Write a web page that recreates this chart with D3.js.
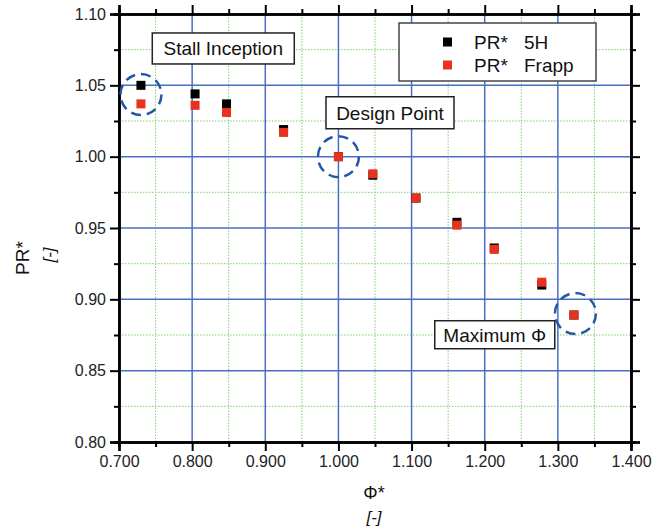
<!DOCTYPE html>
<html>
<head>
<meta charset="utf-8">
<script src="https://cdn.jsdelivr.net/npm/d3@7"></script>
<style>
  body { margin: 0; background: #fff; }
  svg { font-family: "Liberation Sans", Arial, sans-serif; }
</style>
</head>
<body>
<svg id="chart" width="669" height="531"></svg>
<script>
// flow coefficient (normalised) and pressure ratio for both probes
const phi = [0.730, 0.804, 0.847, 0.925, 1.000, 1.047, 1.106, 1.162, 1.213, 1.278, 1.322];
const pr5H = [1.050, 1.044, 1.037, 1.019, 1.000, 0.987, 0.971, 0.954, 0.936, 0.910, 0.889];
const prFrapp = [1.037, 1.036, 1.031, 1.017, 1.000, 0.988, 0.971, 0.952, 0.935, 0.912, 0.889];

const xTicks = [0.7, 0.8, 0.9, 1.0, 1.1, 1.2, 1.3, 1.4];
const yTicks = [0.80, 0.85, 0.90, 0.95, 1.00, 1.05, 1.10];

// highlighted points
const callouts = [
  { x: 0.730, y: 1.0435, label: 'Stall Inception' },
  { x: 1.000, y: 1.000, label: 'Design Point' },
  { x: 1.324, y: 0.890, label: 'Maximum \u03A6' }
];

const width = 669;
const height = 531;
const margin = { top: 14, right: 38, bottom: 89, left: 119 };

const svg = d3.select('#chart');

const x = d3.scaleLinear()
  .domain([0.7, 1.4])
  .range([margin.left, width - margin.right]);

const y = d3.scaleLinear()
  .domain([0.8, 1.1])
  .range([height - margin.bottom, margin.top]);

const minorX = d3.range(0.75, 1.4, 0.1);
const minorY = d3.range(0.825, 1.1, 0.05);

// minor grid, green dotted
svg.append('g')
  .selectAll('line')
  .data(minorX)
  .enter()
  .append('line')
  .attr('x1', d => x(d)).attr('x2', d => x(d))
  .attr('y1', y(0.8)).attr('y2', y(1.1))
  .attr('stroke', '#7fcf6f')
  .attr('stroke-width', 1)
  .attr('stroke-dasharray', '1.5,1.5');

svg.append('g')
  .selectAll('line')
  .data(minorY)
  .enter()
  .append('line')
  .attr('x1', x(0.7)).attr('x2', x(1.4))
  .attr('y1', d => y(d)).attr('y2', d => y(d))
  .attr('stroke', '#7fcf6f')
  .attr('stroke-width', 1)
  .attr('stroke-dasharray', '1.5,1.5');

// major grid, blue
svg.append('g')
  .selectAll('line')
  .data(xTicks)
  .enter()
  .append('line')
  .attr('x1', d => x(d)).attr('x2', d => x(d))
  .attr('y1', y(0.8)).attr('y2', y(1.1))
  .attr('stroke', '#4a6fc2')
  .attr('stroke-width', 1.5);

svg.append('g')
  .selectAll('line')
  .data(yTicks)
  .enter()
  .append('line')
  .attr('x1', x(0.7)).attr('x2', x(1.4))
  .attr('y1', d => y(d)).attr('y2', d => y(d))
  .attr('stroke', '#4a6fc2')
  .attr('stroke-width', 1.5);

// axes: ticks outward on all four sides
function styleAxis(g) {
  g.select('.domain').attr('stroke', '#000').attr('stroke-width', 2.5);
  g.selectAll('line').attr('stroke', '#000').attr('stroke-width', 2);
  g.selectAll('text')
    .attr('fill', '#222')
    .style('font-size', '16px');
}

const axisBottomG = svg.append('g')
  .attr('transform', `translate(0, ${y(0.8)})`);
axisBottomG.append('g')
  .call(d3.axisBottom(x).tickValues(minorX).tickSize(5).tickFormat(''))
  .call(styleAxis);
axisBottomG.append('g')
  .call(d3.axisBottom(x).tickValues(xTicks).tickSize(9).tickPadding(5).tickFormat(d3.format('.3f')))
  .call(styleAxis);

const axisTopG = svg.append('g')
  .attr('transform', `translate(0, ${y(1.1)})`);
axisTopG.append('g')
  .call(d3.axisTop(x).tickValues(minorX).tickSize(5).tickFormat(''))
  .call(styleAxis);
axisTopG.append('g')
  .call(d3.axisTop(x).tickValues(xTicks).tickSize(9).tickFormat(''))
  .call(styleAxis);

const axisLeftG = svg.append('g')
  .attr('transform', `translate(${x(0.7)}, 0)`);
axisLeftG.append('g')
  .call(d3.axisLeft(y).tickValues(minorY).tickSize(5).tickFormat(''))
  .call(styleAxis);
axisLeftG.append('g')
  .call(d3.axisLeft(y).tickValues(yTicks).tickSize(9).tickPadding(4).tickFormat(d3.format('.2f')))
  .call(styleAxis);

const axisRightG = svg.append('g')
  .attr('transform', `translate(${x(1.4)}, 0)`);
axisRightG.append('g')
  .call(d3.axisRight(y).tickValues(minorY).tickSize(5).tickFormat(''))
  .call(styleAxis);
axisRightG.append('g')
  .call(d3.axisRight(y).tickValues(yTicks).tickSize(9).tickFormat(''))
  .call(styleAxis);

// markers
const sq = 9;
svg.append('g')
  .selectAll('rect')
  .data(phi)
  .enter()
  .append('rect')
  .attr('x', d => x(d) - sq / 2)
  .attr('y', (d, i) => y(pr5H[i]) - sq / 2)
  .attr('width', sq).attr('height', sq)
  .attr('fill', '#000');

svg.append('g')
  .selectAll('rect')
  .data(phi)
  .enter()
  .append('rect')
  .attr('x', d => x(d) - sq / 2)
  .attr('y', (d, i) => y(prFrapp[i]) - sq / 2)
  .attr('width', sq).attr('height', sq)
  .attr('fill', '#e8321f');

// dashed circles around the highlighted points
svg.append('g')
  .selectAll('circle')
  .data(callouts)
  .enter()
  .append('circle')
  .attr('cx', d => x(d.x))
  .attr('cy', d => y(d.y))
  .attr('r', 20.5)
  .attr('fill', 'none')
  .attr('stroke', '#2456a8')
  .attr('stroke-width', 2.5)
  .attr('stroke-dasharray', '10,6');

// label boxes
const boxes = [
  { x0: 0.7455, y0: 1.0867, w: 142, h: 31 },
  { x0: 0.983, y0: 1.042, w: 128, h: 32 },
  { x0: 1.1317, y0: 0.885, w: 120, h: 28 }
];
boxes.forEach((b, i) => {
  const bx = x(b.x0), by = y(b.y0);
  svg.append('rect')
    .attr('x', bx).attr('y', by)
    .attr('width', b.w).attr('height', b.h)
    .attr('fill', '#fff')
    .attr('stroke', '#222')
    .attr('stroke-width', 1.5);
  svg.append('text')
    .attr('x', bx + b.w / 2)
    .attr('y', by + b.h / 2 + 7)
    .attr('text-anchor', 'middle')
    .style('font-size', '19px')
    .attr('fill', '#111')
    .text(callouts[i].label);
});

// legend
const legend = svg.append('g').attr('transform', 'translate(399, 23)');
legend.append('rect')
  .attr('width', 197).attr('height', 58)
  .attr('fill', '#fff')
  .attr('stroke', '#444')
  .attr('stroke-width', 1.5);
const legendItems = [
  { name: 'PR*', probe: '5H', color: '#000' },
  { name: 'PR*', probe: 'Frapp', color: '#e8321f' }
];
legendItems.forEach((d, i) => {
  const ly = 19 + i * 23;
  legend.append('rect')
    .attr('x', 44).attr('y', ly - 4.5)
    .attr('width', sq).attr('height', sq)
    .attr('fill', d.color);
  legend.append('text')
    .attr('x', 75).attr('y', ly + 7)
    .style('font-size', '19px')
    .attr('fill', '#111')
    .text(d.name);
  legend.append('text')
    .attr('x', 125).attr('y', ly + 7)
    .style('font-size', '19px')
    .attr('fill', '#111')
    .text(d.probe);
});

// axis titles
svg.append('text')
  .attr('transform', 'translate(29, 258) rotate(-90)')
  .attr('text-anchor', 'middle')
  .style('font-size', '19px')
  .attr('fill', '#111')
  .text('PR*');
svg.append('text')
  .attr('transform', 'translate(55, 255) rotate(-90)')
  .attr('text-anchor', 'middle')
  .style('font-size', '17px')
  .style('font-style', 'italic')
  .attr('fill', '#111')
  .text('[-]');

svg.append('text')
  .attr('x', 374).attr('y', 499)
  .attr('text-anchor', 'middle')
  .style('font-size', '18px')
  .attr('fill', '#111')
  .text('\u03A6*');
svg.append('text')
  .attr('x', 374).attr('y', 523)
  .attr('text-anchor', 'middle')
  .style('font-size', '17px')
  .style('font-style', 'italic')
  .attr('fill', '#111')
  .text('[-]');
</script>
</body>
</html>
